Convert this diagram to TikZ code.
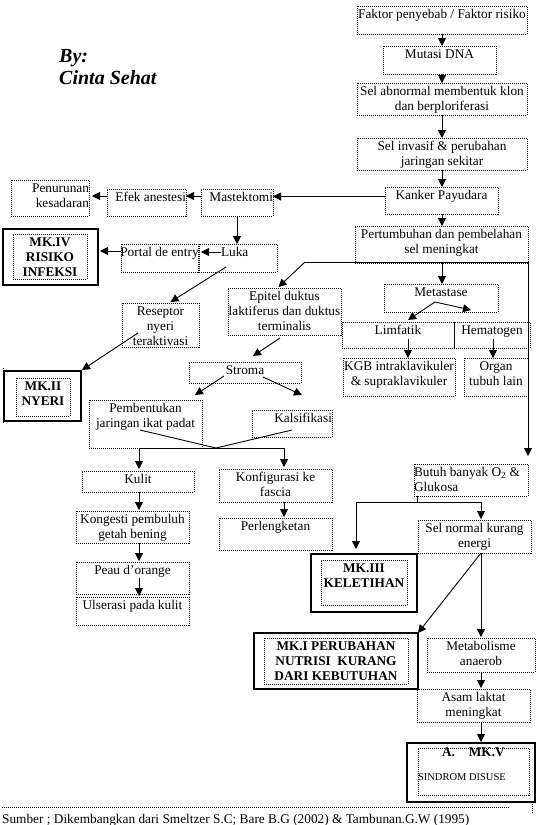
\documentclass[tikz,border=0pt]{standalone}
\usepackage{fontspec}
\setmainfont{Liberation Serif}
\usetikzlibrary{arrows.meta,calc}
\newcommand\TL[1]{\hbox to \hsize{\hss\strut#1\hss}}
\newcommand\TLl[1]{\hbox to \hsize{\strut#1\hss}}
\newcommand\TLr[1]{\hbox to \hsize{\hss\strut#1}}
\newcommand\BX[3]{\vbox to #2pt{\hsize=#1pt\relax\vskip1.5pt #3\vss}}
\begin{document}
\begin{tikzpicture}[x=1pt,y=-1pt,
  bx/.style={draw, line width=0.8pt, dash pattern=on 1pt off 1pt, inner sep=0pt, outer sep=0pt, anchor=north west, font=\fontsize{13.3}{15}\selectfont},
  sbx/.style={draw, line width=1.3pt, inner sep=0pt, outer sep=0pt, anchor=north west},
  arr/.style={-{Triangle[width=8pt,length=8pt]}, line width=0.9pt},
  ln/.style={line width=0.9pt},
  dt/.style={line width=0.8pt, dash pattern=on 1pt off 1pt},
  mk/.style={font=\fontsize{13.3}{15}\selectfont\bfseries}]
\useasboundingbox (0,0) rectangle (536,825);

% title
\node[anchor=base west, inner sep=0pt, font=\fontsize{20}{22}\selectfont\bfseries\itshape] (by) at (59,62) {By:};
\node[anchor=base west, inner sep=0pt, font=\fontsize{20}{22}\selectfont\bfseries\itshape] (cinta) at (59,84) {Cinta Sehat};

% main column
\node[bx] (faktor) at (357,6) {\BX{170}{28}{\TL{Faktor penyebab / Faktor risiko}}};
\node[bx] (mutasi) at (383,46) {\BX{113}{28}{\TL{Mutasi DNA}}};
\node[bx] (abnormal) at (357,83) {\BX{170}{32}{\TL{Sel abnormal membentuk klon}\TL{dan berploriferasi}}};
\node[bx] (invasif) at (357,138) {\BX{170}{32}{\TL{Sel invasif \& perubahan}\TL{jaringan sekitar}}};
\node[bx] (kanker) at (385,187) {\BX{113}{27}{\TL{Kanker Payudara}}};
\node[bx] (tumbuh) at (355,226) {\BX{173}{37}{\TL{Pertumbuhan dan pembelahan}\TL{sel meningkat}}};
\node[bx] (meta) at (384,284) {\BX{114}{28}{\TL{Metastase}}};
\node[bx] (limf) at (342,322) {\BX{112}{26}{\TL{Limfatik}}};
\node[bx] (hema) at (454,322) {\BX{76}{26}{\TL{Hematogen}}};
\node[bx] (kgb) at (343,358) {\BX{112}{38}{\TL{KGB intraklavikuler}\TL{\& supraklavikuler}}};
\node[bx] (organ) at (464,358) {\BX{64}{38}{\TL{Organ}\TL{tubuh lain}}};

% middle
\node[bx] (epitel) at (228,288) {\BX{113}{47}{\TL{Epitel duktus}\TL{laktiferus dan duktus}\TL{terminalis}}};
\node[bx] (stroma) at (189,362) {\BX{112}{21}{\TL{Stroma}}};
\node[bx] (pemb) at (89,400) {\BX{113}{48}{\TL{Pembentukan}\TL{jaringan ikat padat}}};
\node[bx] (kals) at (252,410) {\BX{80}{27}{\TLr{Kalsifikasi}}};
\node[bx] (kulit) at (82,471) {\BX{112}{21}{\TL{Kulit}}};
\node[bx] (kong) at (76,511) {\BX{113}{32}{\TL{Kongesti pembuluh}\TL{getah bening}}};
\node[bx] (peau) at (76,562) {\BX{113}{32}{\TL{Peau d’orange}}};
\node[bx] (ulser) at (76,597) {\BX{113}{28}{\TL{Ulserasi pada kulit}}};
\node[bx] (konf) at (219,469) {\BX{113}{33}{\TL{Konfigurasi ke}\TL{fascia}}};
\node[bx] (perl) at (219,518) {\BX{113}{32}{\TL{Perlengketan}}};

% right lower
\node[bx] (butuh) at (414,464) {\BX{114}{32}{\TLl{Butuh banyak O\textsubscript{2} \&}\TLl{Glukosa}}};
\node[bx] (selnorm) at (418,520) {\BX{113}{33}{\TL{Sel normal kurang}\TL{energi}}};
\node[sbx, minimum width=106pt, minimum height=58pt] (mk3o) at (311,554) {};
\node[bx, mk] (mk3i) at (321,560) {\BX{86}{45}{\TL{MK.III}\TL{KELETIHAN}}};
\node[sbx, minimum width=164pt, minimum height=56pt] (mk1o) at (254,633) {};
\node[bx, mk] (mk1i) at (264,638) {\BX{144}{46}{\TL{MK.I PERUBAHAN}\TL{NUTRISI~ KURANG}\TL{DARI KEBUTUHAN}}};
\node[bx] (metab) at (427,638) {\BX{108}{34}{\TL{Metabolisme}\TL{anaerob}}};
\node[bx] (asam) at (417,689) {\BX{113}{33}{\TL{Asam laktat}\TL{meningkat}}};
\node[sbx, minimum width=128pt, minimum height=59pt] (mk5o) at (407,743) {};
\node[bx] (mk5i) at (418,748) {\BX{111}{47}{\vskip-4pt\TLl{\hspace{24pt}\bfseries A.\hspace{14pt}MK.V}\vskip 9pt\TLl{\fontsize{10.5}{12}\selectfont SINDROM DISUSE}}};

% left upper
\node[bx] (mastek) at (201,189) {\BX{72}{27}{\TLr{Mastektomi}}};
\node[bx] (efek) at (107,189) {\BX{79}{27}{\TLr{Efek anestesi}}};
\node[bx] (penur) at (11,180) {\BX{78}{36}{\TLr{Penurunan}\TLr{kesadaran}}};
\node[bx] (luka) at (199,244) {\BX{78}{28}{\TLl{\hspace{22pt}Luka}}};
\node[bx] (portal) at (121,244) {\BX{77}{28}{\TL{Portal de entry}}};
\node[sbx, minimum width=95pt, minimum height=56pt] (mk4o) at (3,229) {};
\node[bx, mk] (mk4i) at (13,234) {\BX{74}{45}{\TL{MK.IV}\TL{RISIKO}\TL{INFEKSI}}};
\node[bx] (resep) at (122,303) {\BX{77}{44}{\TL{Reseptor}\TL{nyeri}\TL{teraktivasi}}};
\node[sbx, minimum width=77pt, minimum height=50pt] (mk2o) at (4,371) {};
\node[bx, mk] (mk2i) at (16,378) {\BX{54}{38}{\TL{MK.II}\TL{NYERI}}};

% source
\node[anchor=base west, inner sep=0pt, font=\fontsize{13.3}{15}\selectfont] (src) at (2,823) {Sumber ; Dikembangkan dari Smeltzer S.C; Bare B.G (2002) \& Tambunan.G.W (1995)};
\draw[dt] (2,807) -- (509,807);
\draw[dt] (3,368) -- (3,424);
\draw[dt] (532,804) -- (532,814);

% main column arrows
\draw[arr] (faktor.south) -- (faktor.south |- mutasi.north);
\draw[arr] (faktor.south |- mutasi.south) -- (faktor.south |- abnormal.north);
\draw[arr] (faktor.south |- abnormal.south) -- (faktor.south |- invasif.north);
\draw[arr] (faktor.south |- invasif.south) -- (faktor.south |- kanker.north);
\draw[arr] (faktor.south |- kanker.south) -- (faktor.south |- tumbuh.north);
\draw[arr] (faktor.south |- tumbuh.south) -- (faktor.south |- meta.north);

% left branch
\coordinate (kw) at ($(kanker.west)+(0,-4)$);
\draw[arr] (kw) -- (kw -| mastek.east);
\coordinate (mw) at ($(mastek.west)+(0,-6.5)$);
\draw[arr] (mw) -- (mw -| efek.east);
\coordinate (ew) at ($(efek.west)+(0,-6.5)$);
\draw[arr] (ew) -- ($(ew -| penur.east)+(3,0)$);
\draw[arr] (mastek.south) -- (mastek.south |- luka.north);
\coordinate (lw) at ($(luka.west)+(22,-6)$);
\draw[arr] (lw) -- ($(lw -| portal.east)+(3,0)$);
\coordinate (pw) at ($(portal.west)+(0,-7)$);
\draw[arr] (pw) -- ($(pw -| mk4o.east)+(2,0)$);
\draw[arr] ($(luka.south west)+(27,-5)$) -- ($(resep.north)+(10,-1)$);
\draw[arr] ($(resep.west)+(16,8)$) -- ($(mk2o.north east)+(1,-1)$);

% split from Pertumbuhan
\coordinate (split) at ($(tumbuh.south west)+(-50,-1)$);
\coordinate (rc) at ($(tumbuh.south east)+(0,-1)$);
\draw[arr] (split) -- ($(epitel.north)+(-6,-1)$);
\draw[arr] (split) -- (rc) -- ($(rc |- butuh.north)+(0,-8)$);

% metastase
\coordinate (mfork) at ($(meta.south)+(-6,-10)$);
\draw[arr] (mfork) -- ($(limf.north)+(10,-2)$);
\draw[arr] (mfork) -- ($(hema.north)+(-21,-12)$);
\coordinate (lk) at ($(limf.south)+(10,-9)$);
\draw[arr] (lk) -- (lk |- kgb.north);
\coordinate (ho) at ($(hema.south)+(1,-9)$);
\draw[arr] (ho) -- (ho |- organ.north);

% stroma
\draw[arr] ($(epitel.south)+(-4.5,3)$) -- ($(stroma.north)+(8,-6)$);
\draw[arr] ($(stroma.south)+(-21,-7)$) -- ($(pemb.north east)+(-7,-5)$);
\draw[arr] ($(stroma.south)+(18,-6)$) -- ($(kals.north)+(10,-15)$);
\coordinate (mg) at ($(pemb.south east)+(14,0)$);
\draw[ln] ($(pemb.south west)+(51,-18)$) -- (mg) -- ($(kals.south east)+(-40,-7)$);
\coordinate (mgl) at ($(kulit.north |- mg)+(1,0)$);
\coordinate (mgr) at ($(konf.north east |- mg)+(-48,0)$);
\draw[ln] (mgl) -- (mgr);
\draw[arr] (mgl) -- ($(mgl |- kulit.north)+(0,-2)$);
\draw[arr] (mgr) -- ($(mgr |- konf.north)+(0,-2)$);
\draw[arr] (mgl |- kulit.south) -- ($(mgl |- kong.north)+(0,-1)$);
\draw[arr] (mgl |- kong.south) -- ($(mgl |- peau.north)+(0,-1)$);
\draw[arr] ($(mgl |- peau.south)+(0,-16)$) -- ($(mgl |- ulser.north)+(0,-1)$);
\draw[arr] (mgr |- konf.south) -- ($(mgr |- perl.north)+(0,-1)$);

% butuh branch
\coordinate (bt) at ($(butuh.south west)+(3,0)$);
\coordinate (bh) at ($(bt)+(0,6)$);
\coordinate (bl) at ($(mk3o.north west |- bh)+(45,0)$);
\coordinate (br) at (metab.north |- bh);
\draw[ln] (bt) -- (bh);
\draw[arr] (bh) -- (bl) -- ($(bl |- mk3o.north)+(0,-5)$);
\draw[arr] (bh) -- (br) -- ($(br |- selnorm.north)+(0,-1)$);
\draw[arr] (br |- selnorm.south) -- (mk1o.north east);
\draw[arr] (br |- selnorm.south) -- ($(br |- metab.north)+(0,-1)$);
\draw[arr] ($(br |- metab.south)+(0,1)$) -- ($(br |- asam.north)+(0,-1)$);
\draw[arr] (br |- asam.south) -- ($(br |- mk5o.north)+(0,-1)$);
\end{tikzpicture}
\end{document}
